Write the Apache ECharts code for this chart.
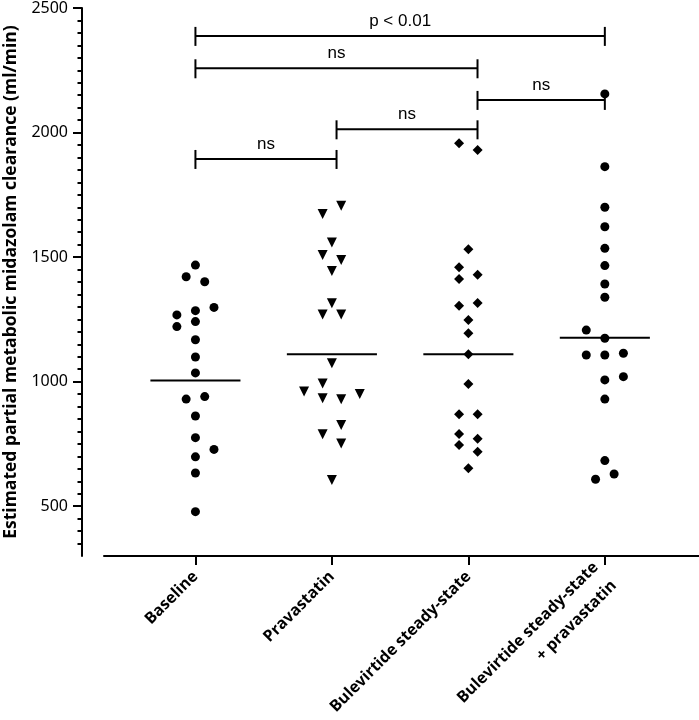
<!DOCTYPE html>
<html>
<head>
<meta charset="utf-8">
<script src="https://cdn.jsdelivr.net/npm/echarts@6/dist/echarts.min.js"></script>
<style>
  html, body { margin: 0; padding: 0; background: #fff; }
  #chart { width: 699px; height: 720px; }
</style>
</head>
<body>
<div id="chart"></div>
<script>
var categories = ['Baseline', 'Pravastatin', 'Bulevirtide steady-state', 'Bulevirtide steady-state\n+ pravastatin'];
var symbols = ['circle', 'triangle', 'diamond', 'circle'];

// clearance values (ml/min) per group, and the horizontal jitter step of each dot
var baseline = [1468, 1421, 1401, 1298, 1285, 1268, 1241, 1221, 1168, 1099, 1035, 940, 930, 862, 775, 728, 698, 633, 478];
var baselineJitter = [0, -1, 1, 2, 0, -2, 0, -2, 0, 0, 0, 1, -1, 0, 0, 2, 0, 0, 0];
var pravastatin = [1706, 1673, 1559, 1508, 1488, 1444, 1315, 1270, 1270, 1074, 993, 960, 950, 933, 929, 826, 789, 752, 605];
var pravastatinJitter = [1, -1, 0, -1, 1, 0, 0, -1, 1, 0, -1, -3, 3, -1, 1, 1, -1, 1, 0];
var bulevirtide = [1957, 1930, 1531, 1459, 1429, 1412, 1316, 1305, 1247, 1194, 1110, 991, 869, 869, 790, 771, 746, 719, 652];
var bulevirtideJitter = [-1, 1, 0, -1, 1, -1, 1, -1, 0, 0, 0, 0, -1, 1, -1, 1, -1, 1, 0];
var combo = [2155, 1863, 1700, 1622, 1535, 1466, 1392, 1339, 1207, 1174, 1114, 1107, 1107, 1020, 1007, 930, 683, 629, 608];
var comboJitter = [0, 0, 0, 0, 0, 0, 0, 0, -2, 0, 2, -2, 0, 2, 0, 0, 0, 1, -1];

var medians = [1005, 1110, 1110, 1176];

// comparison brackets: from group, to group, height, label
var bracketFrom = [0, 0, 2, 1, 0];
var bracketTo = [3, 2, 3, 2, 1];
var bracketY = [2388, 2258, 2131, 2013, 1894];
var bracketLabels = ['p < 0.01', 'ns', 'ns', 'ns', 'ns'];

var yMajorTicks = [500, 1000, 1500, 2000, 2500];
var yMinorTicks = [];
for (var t = 350; t < 2500; t += 50) {
    if (t % 500 !== 0) yMinorTicks.push(t);
}

var groups = [
    [baseline, baselineJitter],
    [pravastatin, pravastatinJitter],
    [bulevirtide, bulevirtideJitter],
    [combo, comboJitter]
];
var jitterStep = 0.068;
// bracket ends sit slightly right of the middle two groups in the original
var bracketX = [0, 1.034, 2.067, 3];

var chart = echarts.init(document.getElementById('chart'), null, { renderer: 'canvas' });

var series = groups.map(function(g, i) {
    return {
        type: 'scatter',
        symbol: symbols[i],
        symbolSize: i === 0 || i === 3 ? 9 : 10,
        symbolRotate: i === 1 ? 180 : 0,
        itemStyle: { color: '#000', opacity: 1 },
        data: g[0].map(function(v, j) {
            return [i + g[1][j] * jitterStep, v];
        }),
        z: 3
    };
});

series.push({
    type: 'custom',
    data: medians.map(function(m, i) { return [i, m]; }),
    renderItem: function(params, api) {
        var x = api.value(0), y = api.value(1);
        var a = api.coord([x - 0.33, y]);
        var b = api.coord([x + 0.33, y]);
        return {
            type: 'line',
            shape: { x1: a[0], y1: a[1], x2: b[0], y2: b[1] },
            style: { stroke: '#000', lineWidth: 2 }
        };
    },
    z: 4
});

series.push({
    type: 'custom',
    data: bracketY.map(function(y, i) { return [bracketFrom[i], bracketTo[i], y, i]; }),
    renderItem: function(params, api) {
        var a = api.coord([bracketX[api.value(0)], api.value(2)]);
        var b = api.coord([bracketX[api.value(1)], api.value(2)]);
        var st = { stroke: '#000', lineWidth: 2 };
        return {
            type: 'group',
            children: [
                { type: 'line', shape: { x1: a[0], y1: a[1], x2: b[0], y2: b[1] }, style: st },
                { type: 'line', shape: { x1: a[0], y1: a[1] - 9, x2: a[0], y2: a[1] + 10 }, style: st },
                { type: 'line', shape: { x1: b[0], y1: b[1] - 9, x2: b[0], y2: b[1] + 10 }, style: st },
                {
                    type: 'text',
                    style: {
                        text: bracketLabels[api.value(3)],
                        x: (a[0] + b[0]) / 2,
                        y: a[1] - 6,
                        align: 'center',
                        verticalAlign: 'bottom',
                        fill: '#000',
                        font: '17px "Liberation Sans", Arial, sans-serif'
                    }
                }
            ]
        };
    },
    z: 4
});

chart.setOption({
    animation: false,
    backgroundColor: '#fff',
    grid: { left: 104, right: 0, top: 8, bottom: 164, outerBoundsMode: 'none' },
    xAxis: {
        type: 'value',
        min: -0.67,
        max: 3.69,
        splitLine: { show: false },
        axisLine: { show: true, onZero: false, lineStyle: { color: '#000', width: 2 } },
        axisTick: { show: true, customValues: [0, 1, 2, 3], length: 9, lineStyle: { color: '#000', width: 2 } },
        axisLabel: {
            customValues: [0, 1, 2, 3],
            formatter: function(v) { return categories[Math.round(v)]; },
            rotate: 45,
            margin: 18,
            color: '#000',
            fontSize: 16,
            fontWeight: 'bold',
            lineHeight: 26,
            fontFamily: '"Open Sans", "Noto Sans", sans-serif'
        }
    },
    yAxis: [{
        type: 'value',
        min: 300,
        max: 2500,
        offset: 22,
        name: 'Estimated partial metabolic midazolam clearance (ml/min)',
        nameLocation: 'middle',
        nameGap: 54,
        nameTextStyle: {
            color: '#000',
            fontSize: 17.5,
            fontWeight: 'bold',
            fontFamily: '"Open Sans", "Noto Sans", sans-serif'
        },
        splitLine: { show: false },
        axisLine: { show: true, onZero: false, lineStyle: { color: '#000', width: 2 } },
        axisTick: { show: true, customValues: yMajorTicks, length: 9, lineStyle: { color: '#000', width: 2 } },
        axisLabel: {
            customValues: yMajorTicks,
            formatter: function(v) { return String(v); },
            margin: 14,
            color: '#000',
            fontSize: 16,
            fontFamily: '"Noto Sans", sans-serif'
        }
    }, {
        type: 'value',
        min: 300,
        max: 2500,
        offset: 22,
        position: 'left',
        splitLine: { show: false },
        axisLine: { show: false, onZero: false },
        axisTick: { show: true, customValues: yMinorTicks, length: 4.5, lineStyle: { color: '#000', width: 2 } },
        axisLabel: { show: false }
    }],
    series: series
});
</script>
</body>
</html>
